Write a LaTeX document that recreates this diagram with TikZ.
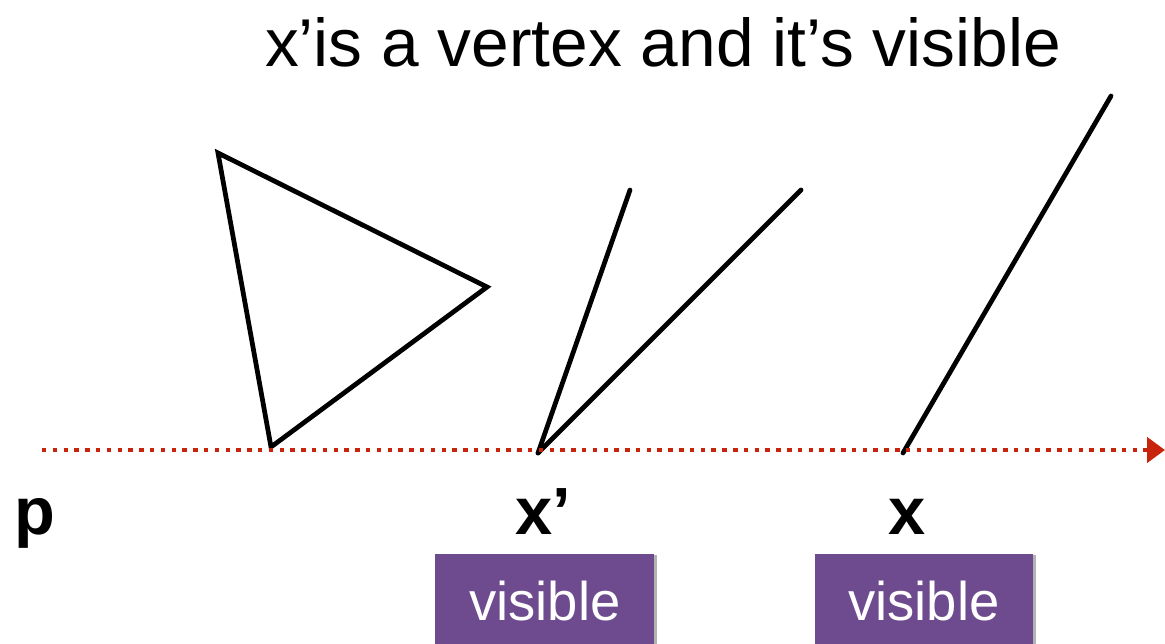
\documentclass[tikz,border=0pt]{standalone}
\usepackage{fontspec}
\setmainfont{Liberation Sans}
\usetikzlibrary{arrows.meta,shadows}
\definecolor{raycol}{RGB}{200,36,12}
\definecolor{tagcol}{RGB}{110,74,142}
\tikzset{
  seg/.style={line width=0.095cm,line cap=round,line join=miter},
  ray/.style={raycol,line width=0.09cm,dash pattern=on 0.09cm off 0.126cm,
    -{Triangle[length=0.36cm,width=0.5cm]}},
  ptlabel/.style={font=\fontsize{38}{40}\selectfont\bfseries,anchor=base},
  tag/.style={fill=tagcol,minimum height=2cm,anchor=north west,
    drop shadow={shadow xshift=0.06cm,shadow yshift=-0.02cm,opacity=0.6},
    inner sep=0pt},
  tagtext/.style={text=white,font=\fontsize{31}{33}\selectfont,anchor=base}
}
\begin{document}
\begin{tikzpicture}[x=0.02cm,y=-0.02cm]
  \clip (0,0) rectangle (1165,644);
  \node[anchor=base] (title) at (663,67) {\fontsize{38.5}{40}\selectfont x’is a vertex and it’s visible};
  % triangle
  \coordinate (t1) at (218,153);
  \coordinate (t2) at (487,287);
  \coordinate (t3) at (271,447);
  \draw[seg] (t1) -- (t2) -- (t3) -- cycle;
  % vertex x'
  \coordinate (xp) at (538,453);
  \coordinate (e1) at (630,190);
  \coordinate (e2) at (801,190);
  \draw[seg] (xp) -- (e1);
  \draw[seg] (xp) -- (e2);
  % edge at x
  \coordinate (xx) at (903,453);
  \coordinate (e3) at (1111,96);
  \draw[seg] (xx) -- (e3);
  % ray from p
  \coordinate (rs) at (42,450);
  \coordinate (re) at (1165,450);
  \draw[ray] (rs) -- (re);
  \node[ptlabel] (p) at (35,534) {p};
  \node[ptlabel] (lxp) at (543,534) {x’};
  \node[ptlabel] (lx) at (907,534) {x};
  \node[tag,minimum width=4.38cm] (v1) at (435,554) {};
  \node[tagtext] (v1t) at (545,620) {visible};
  \node[tag,minimum width=4.36cm] (v2) at (815,554) {};
  \node[tagtext] (v2t) at (924,620) {visible};
\end{tikzpicture}
\end{document}
